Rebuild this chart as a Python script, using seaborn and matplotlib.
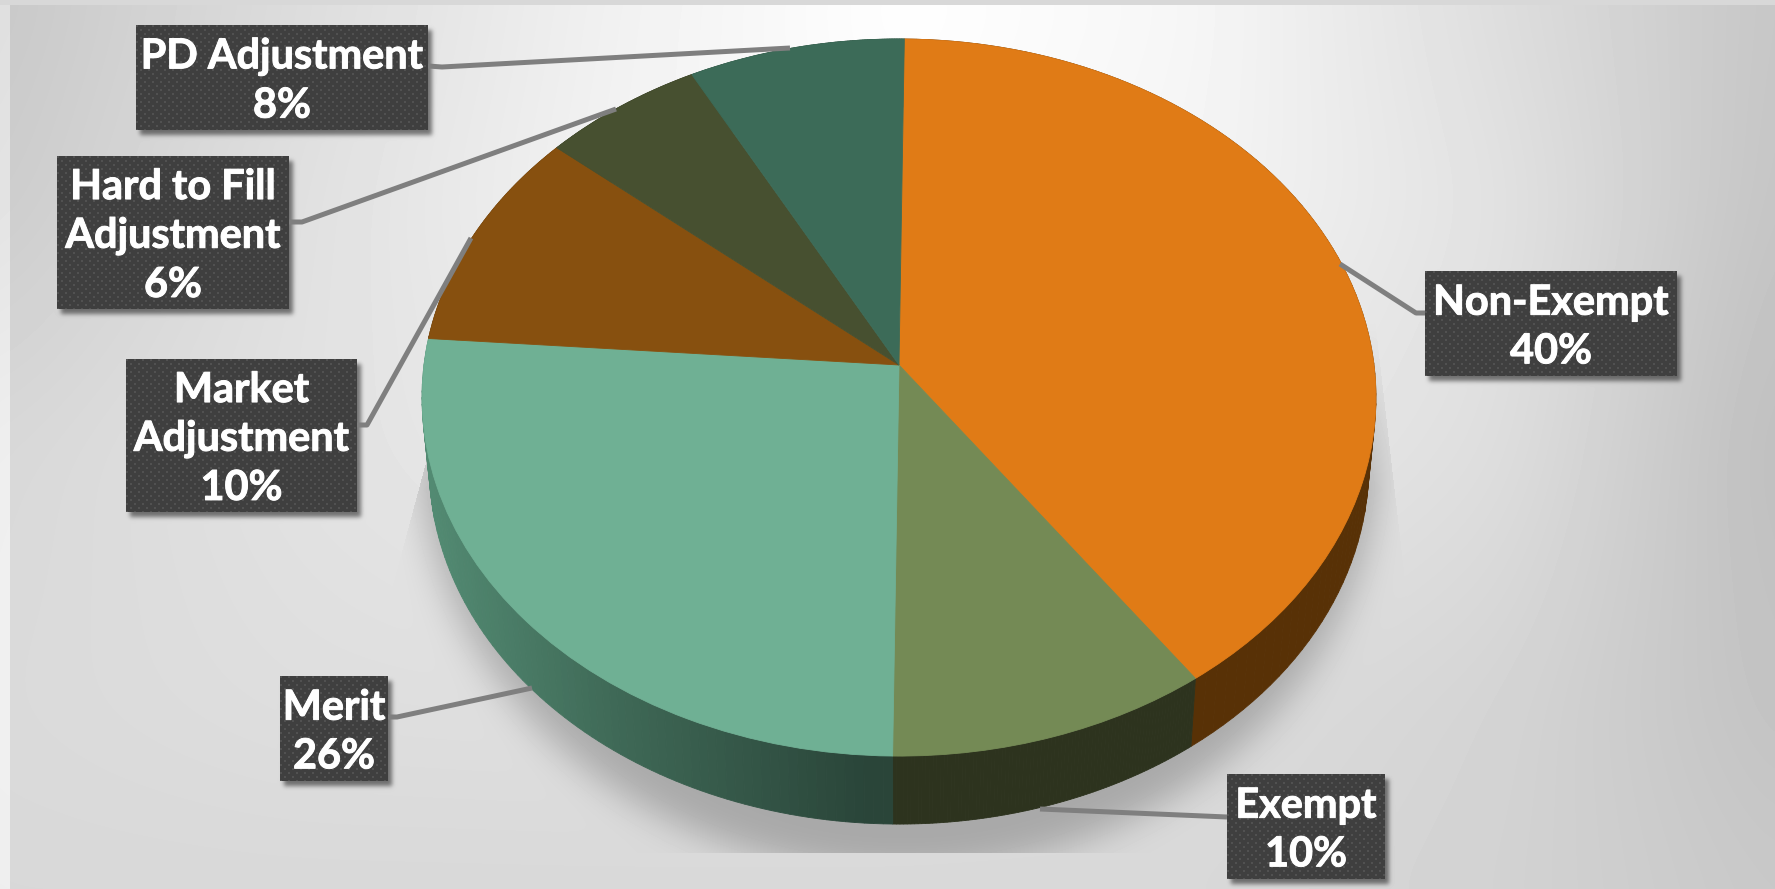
import numpy as np
import seaborn as sns
import matplotlib
matplotlib.use("Agg")
import matplotlib.pyplot as plt
import matplotlib.patheffects as pe
from matplotlib.transforms import Transform
from matplotlib.colors import to_rgb

# ---- chart content -------------------------------------------------------
categories = ["Non-Exempt", "Exempt", "Merit", "Market\nAdjustment",
              "Hard to Fill\nAdjustment", "PD Adjustment"]
values = [40, 10, 26, 10, 6, 8]
top_colors = ["#E07B16", "#748A55", "#6FB094", "#87500F", "#475030", "#3C6B58"]
side_colors = ["#583106", "#2D331E", "#2A4539", "#5A3508", "#2D331E", "#284739"]

# Callout boxes (left, top, right, bottom) and leader polylines, in pixels
boxes = [(1425, 271, 1677, 376), (1227, 774, 1385, 879), (280, 676, 388, 781),
         (126, 359, 357, 512), (57, 156, 289, 309), (136, 25, 428, 130)]
leaders = [[(1425, 313), (1416, 313), (1340, 264)],
           [(1227, 817), (1040, 809)],
           [(388, 717), (397, 717), (532, 688)],
           [(357, 425), (367, 425), (471, 238)],
           [(289, 222), (302, 222), (616, 109)],
           [(428, 66), (442, 67), (790, 48)]]

W, H = 1775, 889
CX, CY = 899.0, 365.0
RX, RY, PERSP = 475.0, 355.6, 0.0907
DEPTH, TAPER = 68.0, 0.985


class TiltedDisk(Transform):
    """Perspective view of the unit disk lying on a table, output in pixels."""
    input_dims = output_dims = 2

    def transform_non_affine(self, xy):
        xy = np.asarray(xy, dtype=float)
        w = 1 + PERSP * xy[:, 1]
        return np.column_stack([CX + RX * xy[:, 0] / w, CY - RY * xy[:, 1] / w])


def blur(a, sigma):
    fy = np.fft.fftfreq(a.shape[0])[:, None]
    fx = np.fft.rfftfreq(a.shape[1])[None, :]
    g = np.exp(-2 * (np.pi * sigma) ** 2 * (fx ** 2 + fy ** 2))
    return np.fft.irfft2(np.fft.rfft2(a) * g, s=a.shape)


def backdrop():
    # Light spot behind the top of the pie, falling off to grey at the edges
    gx = [0, 300, 600, 900, 1200, 1500, 1775]
    gy = [0, 200, 450, 700, 889]
    grid = np.array([
        [0xC8, 0xDC, 0xF0, 0xFF, 0xF6, 0xDD, 0xC6],
        [0xCC, 0xE0, 0xF2, 0xFC, 0xF4, 0xE2, 0xC4],
        [0xD8, 0xE2, 0xEA, 0xF0, 0xEA, 0xDE, 0xBE],
        [0xDA, 0xDE, 0xDF, 0xDF, 0xDC, 0xD4, 0xC2],
        [0xD8, 0xD8, 0xD8, 0xD8, 0xD8, 0xD2, 0xC8]], dtype=float)
    xs, ys = np.arange(W), np.arange(H)
    rows = np.array([np.interp(xs, gx, row) for row in grid])
    img = np.array([np.interp(ys, gy, rows[:, i]) for i in range(W)]).T
    img = blur(np.pad(img, 100, mode="edge"), 40)[100:-100, 100:-100]

    # Soft shadow under the pie: fades in down the sides, hard cut at the floor
    X, Y = np.meshgrid(xs, ys)
    disk = (((X - CX) / 482) ** 2 + ((Y - 440) / 432) ** 2 < 1).astype(float)
    shadow = blur(disk, 18) * np.clip((Y - 320) / 170, 0, 1)
    left = 428 + (Y - 453) * (390 - 428) / (594 - 453)
    right = 1370 + (Y - 280) * (1408 - 1370) / (610 - 280)
    shadow *= (X > left) & (X < right) & (Y < 853)
    img *= 1 - 0.23 * shadow

    # Drop shadow of each callout box
    for x0, y0, x1, y1 in boxes:
        rect = np.zeros((H, W))
        rect[y0 + 5:y1 + 5, x0 + 4:x1 + 4] = 1
        img *= 1 - 0.5 * blur(rect, 2.2)

    # Slide edge strips
    img[:, :10] = np.clip(img[:, :10] + 22, 0, 255)
    img[:5, :] = 0xD8
    return img


def dotted_panel(w, h):
    # Dark panel with a faint staggered dot texture
    yy, xx = np.mgrid[0:h, 0:w]
    dots = (((xx % 8 < 2) & (yy % 8 < 2)) |
            (((xx + 4) % 8 < 2) & ((yy + 4) % 8 < 2)))
    return np.where(dots, 0x52, 0x3F).astype(float)


sns.set_theme(style="white")
plt.rcParams["font.family"] = ["Lato", "DejaVu Sans"]
palette = sns.color_palette(top_colors)

fig = plt.figure(figsize=(W / 100, H / 100), dpi=100)
ax = fig.add_axes([0, 0, 1, 1])

wedges, _ = ax.pie(values, colors=palette, startangle=89.3, counterclock=False,
                   wedgeprops=dict(zorder=3, linewidth=0))
disk_tf = TiltedDisk()
for wedge, color in zip(wedges, palette):
    wedge.set_transform(disk_tf + ax.transData)
    wedge.set_edgecolor(color)
    wedge.set_linewidth(0.6)

ax.set_aspect("auto")
ax.set_xlim(0, W)
ax.set_ylim(H, 0)
ax.axis("off")
ax.imshow(backdrop(), cmap="gray", vmin=0, vmax=255, extent=(0, W, H, 0),
          aspect="auto", zorder=0)

# Side wall of the disk, wedge by wedge
merit = categories.index("Merit")
for i, wedge in enumerate(wedges):
    t = np.radians(np.linspace(wedge.theta1, wedge.theta2, 90))
    rim = disk_tf.transform(np.column_stack([np.cos(t), np.sin(t)]))
    low = np.column_stack([CX + (rim[:, 0] - CX) * TAPER, rim[:, 1] + DEPTH])
    dark = np.array(to_rgb(side_colors[i]))
    for j in range(len(t) - 1):
        color = dark
        if i == merit:
            # The Merit wall brightens towards the left of the disk
            f = np.interp(rim[j, 0], [430, 620, 860], [1.0, 0.5, 0.0])
            color = dark + f * (np.array(to_rgb("#528A72")) - dark)
        ax.fill([rim[j, 0], rim[j + 1, 0], low[j + 1, 0], low[j, 0]],
                [rim[j, 1], rim[j + 1, 1], low[j + 1, 1], low[j, 1]],
                color=color, lw=0.6, zorder=2)

# Leader lines sit on top of the pie, callouts on top of the lines
for path in leaders:
    xs, ys = zip(*path)
    ax.plot(xs, ys, color="#7F7F7F", lw=3.6, solid_joinstyle="round",
            solid_capstyle="butt", zorder=4)

for name, val, (x0, y0, x1, y1) in zip(categories, values, boxes):
    ax.imshow(dotted_panel(x1 - x0, y1 - y0), cmap="gray", vmin=0, vmax=255,
              extent=(x0, x1, y1, y0), aspect="auto", zorder=5,
              interpolation="bilinear")
    ax.text((x0 + x1) / 2, (y0 + y1) / 2 + 4, f"{name}\n{val}%", color="white",
            fontsize=29.8, fontweight="bold", ha="center", va="center",
            linespacing=1.39, zorder=6,
            path_effects=[pe.withStroke(linewidth=0.7, foreground="white")])

ax.set_xlim(0, W)
ax.set_ylim(H, 0)
fig.savefig("out.png", dpi=100)
